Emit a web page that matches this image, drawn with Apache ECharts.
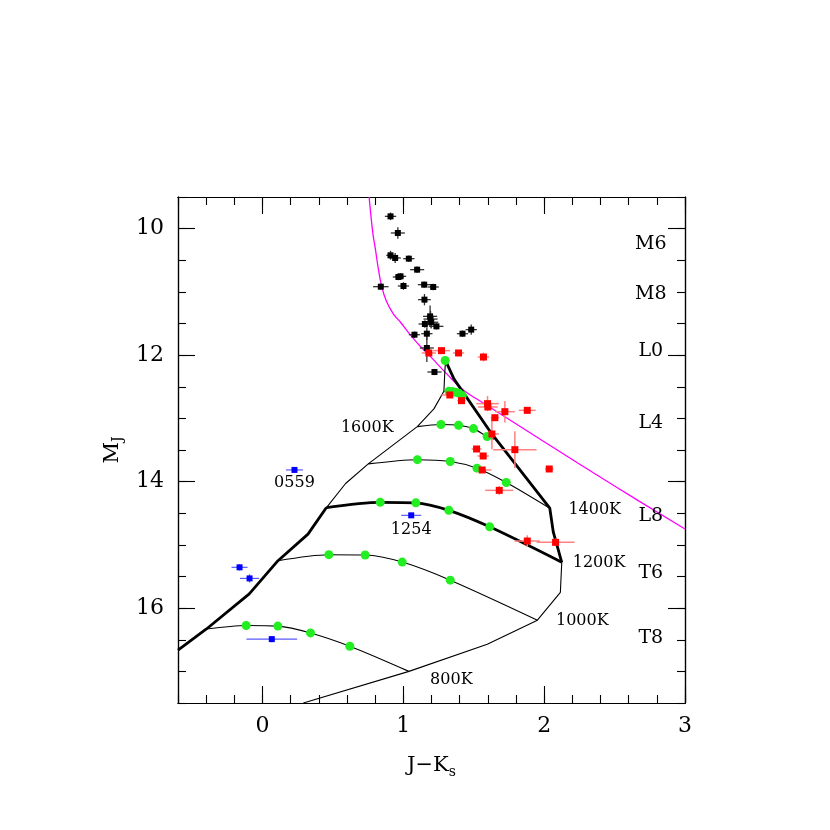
<!DOCTYPE html>
<html><head><meta charset="utf-8">
<script src="https://cdn.jsdelivr.net/npm/echarts@6/dist/echarts.min.js"></script>
<style>html,body{margin:0;padding:0;background:#fff}#c{width:830px;height:830px}</style>
</head><body><div id="c"></div>
<script>
// ---------- data ----------
const blackX = [0.909,0.961,0.909,0.942,1.039,1.098,0.980,0.965,0.840,1.001,1.148,1.212,1.150,1.190,1.193,1.153,1.198,1.235,1.079,1.167,1.420,1.482,1.167,1.221];
const blackY = [9.806,10.069,10.422,10.464,10.475,10.649,10.754,10.765,10.918,10.907,10.886,10.923,11.123,11.387,11.43,11.508,11.48,11.545,11.677,11.661,11.661,11.597,11.887,12.267];
const blackEx = [0.04,0.05,0.03,0.04,0.04,0.05,0.04,0.04,0.055,0.04,0.045,0.04,0.045,0.05,0.05,0.045,0.05,0.05,0.04,0.04,0.04,0.04,0.05,0.05];
const blackEy = [0.06,0.09,0.07,0.08,0.05,0.05,0.05,0.05,0.05,0.06,0.05,0.05,0.09,0.17,0.13,0.06,0.1,0.05,0.05,0.1,0.05,0.08,0.22,0.05];

const redX = [1.181,1.271,1.392,1.569,1.330,1.413,1.598,1.600,1.721,1.880,1.650,1.629,1.792,1.520,1.567,1.560,2.036,1.681,1.880,2.081];
const redY = [11.966,11.929,11.966,12.030,12.630,12.720,12.767,12.820,12.894,12.873,12.989,13.247,13.495,13.484,13.595,13.816,13.800,14.138,14.939,14.960];
const redEx = [0.05,0.06,0.04,0.04,0.06,0.03,0.08,0.07,0.07,0.06,0.03,0.05,0.154,0.035,0.04,0.065,0.03,0.1,0.09,0.134];
const redEy = [0.04,0.04,0.03,0.07,0.04,0.04,0.12,0.05,0.17,0.05,0.04,0.24,0.29,0.04,0.05,0.04,0.03,0.07,0.09,0.06];

const blueX = [0.227,1.056,-0.163,-0.092,0.066];
const blueY = [13.815,14.533,15.355,15.53,16.49];
const blueEx = [0.06,0.071,0.057,0.068,0.18];
const blueEy = [0.04,0.04,0.05,0.065,0.05];

const greenX = [1.297,1.324,1.348,1.371,1.395,1.419, 1.267,1.392,1.498,1.595, 1.10,1.333,1.523,1.731, 0.836,1.089,1.323,1.613, 0.471,0.729,0.992,1.333, -0.116,0.109,0.341,0.620];
const greenY = [12.085,12.572,12.577,12.588,12.604,12.640, 13.096,13.108,13.162,13.287, 13.653,13.682,13.787,14.013, 14.327,14.335,14.454,14.715, 15.155,15.16,15.272,15.558, 16.274,16.284,16.392,16.602];

// model tracks (thin)
const trackAX = [1.288,1.324,1.371,1.419,1.44];
const trackAY = [12.572,12.572,12.588,12.640,12.68];
const trackBX = [1.099,1.267,1.392,1.498,1.595,1.645];
const trackBY = [13.13,13.096,13.108,13.162,13.287,13.33];
const trackCX = [0.751,1.10,1.333,1.523,1.731,2.04];
const trackCY = [13.72,13.653,13.682,13.787,14.013,14.42];
const trackEX = [0.11,0.471,0.729,0.992,1.333,1.952];
const trackEY = [15.25,15.155,15.16,15.272,15.558,16.19];
const trackFX = [-0.398,-0.116,0.109,0.341,0.620,1.04];
const trackFY = [16.33,16.274,16.284,16.392,16.602,17.0];
// model track (thick)
const trackDX = [0.454,0.836,1.089,1.323,1.613,2.125];
const trackDY = [14.41,14.327,14.335,14.454,14.715,15.275];
// boundaries
const leftThickX = [-0.6,-0.398,-0.094,0.11,0.323,0.454];
const leftThickY = [16.665,16.33,15.775,15.25,14.83,14.41];
const leftThinX = [0.454,0.59,0.751,1.099,1.217,1.288,1.295,1.300];
const leftThinY = [14.41,14.03,13.72,13.13,12.85,12.572,12.245,12.087];
const rightThickX = [1.300,1.36,1.62,2.04,2.065,2.125];
const rightThickY = [12.087,12.38,13.22,14.42,14.80,15.275];
const bottomX = [2.125,2.115,1.952,1.596,1.04,0.29];
const bottomY = [15.275,15.75,16.19,16.57,17.0,17.5];

const magentaX = [0.757,0.770,0.785,0.80,0.82,0.845,0.88,0.93,0.98,1.05,1.12,1.20,1.31,1.43,1.57,1.76,2.0,2.5,3.0];
const magentaY = [9.5,9.8,10.1,10.3,10.6,10.9,11.15,11.35,11.48,11.68,11.86,12.04,12.30,12.56,12.76,13.03,13.37,14.07,14.75];

const tempNames = ['1600K','1400K','1200K','1000K','800K'];
const tempX = [0.744,2.359,2.390,2.271,1.341];
const tempY = [13.15,14.448,15.285,16.198,17.13];
const objNames = ['0559','1254'];
const objX = [0.227,1.056];
const objY = [14.02,14.764];
const sptNames = ['M6','M8','L0','L4','L8','T6','T8'];
const sptX = [2.757,2.757,2.757,2.757,2.757,2.757,2.757];
const sptY = [10.25,11.03,11.94,13.07,14.55,15.44,16.47];

const xTickLabels = [0,1,2,3];
const yTickLabels = [10,12,14,16];

// ---------- helpers ----------
const zip = (xs, ys) => xs.map((x, i) => [x, ys[i]]);
const FONT = 'DejaVu Serif';
function errSeries(xs, ys, exs, eys, color, lw) {
  return {
    type: 'custom', clip: true, silent: true, z: 3,
    data: xs.map((x, i) => [x, ys[i], exs[i], eys[i]]),
    renderItem: function (params, api) {
      const x = api.value(0), y = api.value(1), ex = api.value(2), ey = api.value(3);
      const a = api.coord([x - ex, y]), b = api.coord([x + ex, y]);
      const c = api.coord([x, y - ey]), d = api.coord([x, y + ey]);
      return { type: 'group', children: [
        { type: 'line', shape: { x1: a[0], y1: a[1], x2: b[0], y2: b[1] }, style: { stroke: color, lineWidth: lw } },
        { type: 'line', shape: { x1: c[0], y1: c[1], x2: d[0], y2: d[1] }, style: { stroke: color, lineWidth: lw } }
      ]};
    }
  };
}
function lineSeries(xs, ys, width, color, smooth) {
  return { type: 'line', data: zip(xs, ys), symbol: 'none', smooth: smooth || false, silent: true, z: 2,
    lineStyle: { color: color || '#000', width: width }, clip: true };
}
function pointSeries(xs, ys, symbol, size, color) {
  return { type: 'scatter', data: zip(xs, ys), symbol: symbol, symbolSize: size,
    itemStyle: { color: color, opacity: 1 }, z: 4, silent: true };
}
function labelSeries(xs, ys, names, size) {
  return { type: 'scatter', symbolSize: 1, silent: true, z: 5,
    itemStyle: { color: 'rgba(0,0,0,0)', opacity: 1 },
    data: xs.map((x, i) => [x, ys[i], names[i]]),
    label: { show: true, position: 'inside', formatter: p => p.value[2], color: '#000', opacity: 1,
      fontFamily: FONT, fontSize: size, textBorderWidth: 0 } };
}
const minorX = [], minorY = [];
for (let i = 0; i <= 18; i++) minorX.push(+(-0.6 + 0.2 * i).toFixed(2));
for (let i = 0; i <= 16; i++) minorY.push(+(9.5 + 0.5 * i).toFixed(2));

const axisLineStyle = { show: true, onZero: false, lineStyle: { color: '#000', width: 1.2 } };
function xAx(pos, major, withLabel) {
  return {
    type: 'value', min: -0.6, max: 3, position: pos, gridIndex: 0,
    axisLine: axisLineStyle, splitLine: { show: false },
    axisTick: { show: true, inside: true, length: major ? 17 : 8, customValues: major ? xTickLabels : minorX, lineStyle: { color: '#000', width: 1.1 } },
    axisLabel: withLabel ? { show: true, customValues: xTickLabels, margin: 12, fontFamily: FONT, fontSize: 22, color: '#000' } : { show: false },
    name: withLabel ? 'J−K{s|s}' : '', nameLocation: 'middle', nameGap: 50,
    nameTextStyle: { fontFamily: FONT, fontSize: 21, color: '#000',
      rich: { s: { fontFamily: FONT, fontSize: 14, color: '#000', verticalAlign: 'bottom', padding: [12, 0, 0, 0] } } }
  };
}
function yAx(pos, major, withLabel) {
  return {
    type: 'value', min: 9.5, max: 17.5, inverse: true, position: pos, gridIndex: 0,
    axisLine: axisLineStyle, splitLine: { show: false },
    axisTick: { show: true, inside: true, length: major ? 17 : 8, customValues: major ? yTickLabels : minorY, lineStyle: { color: '#000', width: 1.1 } },
    axisLabel: withLabel ? { show: true, customValues: yTickLabels, margin: 14, fontFamily: FONT, fontSize: 22, color: '#000' } : { show: false },
    name: withLabel ? 'M{s|J}' : '', nameLocation: 'middle', nameGap: 36, nameRotate: 90,
    nameTextStyle: { fontFamily: FONT, fontSize: 21, color: '#000',
      rich: { s: { fontFamily: FONT, fontSize: 14, color: '#000', verticalAlign: 'bottom', padding: [12, 0, 0, 0] } } }
  };
}

const option = {
  animation: false,
  backgroundColor: '#fff',
  grid: { left: 178, top: 197, width: 507, height: 506, containLabel: false },
  xAxis: [xAx('bottom', false, true), xAx('bottom', true, false), xAx('top', false, false), xAx('top', true, false)],
  yAxis: [yAx('left', false, true), yAx('left', true, false), yAx('right', false, false), yAx('right', true, false)],
  series: [
    lineSeries(magentaX, magentaY, 1.3, '#ff00ff', 0.4),
    lineSeries(leftThickX, leftThickY, 2.8),
    lineSeries(leftThinX, leftThinY, 1.1),
    lineSeries(rightThickX, rightThickY, 2.8),
    lineSeries(bottomX, bottomY, 1.1),
    lineSeries(trackAX, trackAY, 1.1, '#000', 0.3),
    lineSeries(trackBX, trackBY, 1.1, '#000', 0.3),
    lineSeries(trackCX, trackCY, 1.1, '#000', 0.3),
    lineSeries(trackDX, trackDY, 2.8, '#000', 0.3),
    lineSeries(trackEX, trackEY, 1.1, '#000', 0.3),
    lineSeries(trackFX, trackFY, 1.1, '#000', 0.3),
    Object.assign(pointSeries(greenX, greenY, 'circle', 9, '#22ee22'), { z: 3 }),
    errSeries(blackX, blackY, blackEx, blackEy, '#333', 1.3),
    errSeries(redX, redY, redEx, redEy, '#ff8080', 1.5),
    errSeries(blueX, blueY, blueEx, blueEy, '#5a5aff', 1.2),
    pointSeries(blackX, blackY, 'rect', 6, '#000'),
    pointSeries(redX, redY, 'rect', 7, '#ff0000'),
    pointSeries(blueX, blueY, 'rect', 6, '#0000ff'),
    labelSeries(tempX, tempY, tempNames, 16),
    labelSeries(objX, objY, objNames, 16),
    labelSeries(sptX, sptY, sptNames, 19)
  ]
};
const chart = echarts.init(document.getElementById('c'), null, { renderer: 'canvas' });
chart.setOption(option);
</script>
</body></html>
